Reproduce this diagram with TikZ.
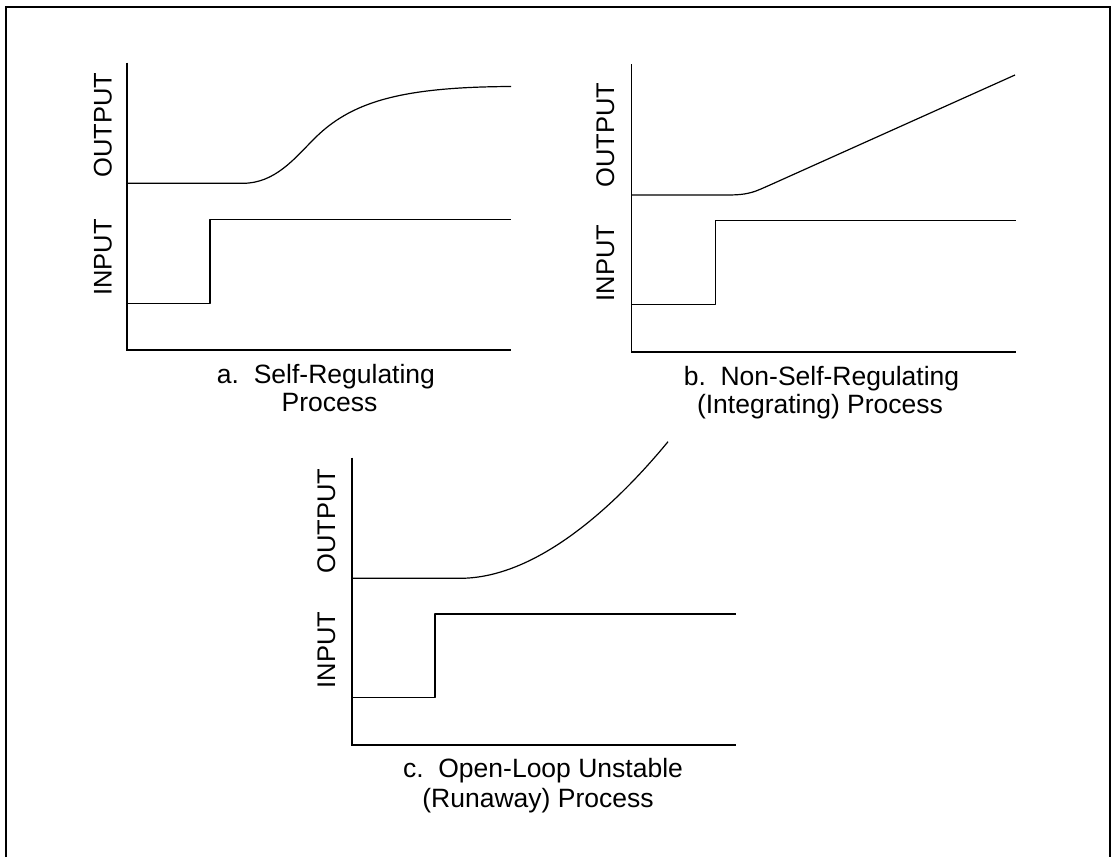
\documentclass[tikz,border=0pt]{standalone}
\usepackage{fontspec}
\setmainfont{Liberation Sans}
\begin{document}
\begin{tikzpicture}[x=1pt,y=-1pt,
  frame/.style={line width=2pt},
  axisline/.style={line width=1.6pt},
  sig/.style={line width=1.2pt, line join=round},
  lbl/.style={rotate=90, anchor=base, inner sep=0pt, font=\fontsize{25.5}{30}\selectfont},
  captxt/.style={anchor=base, inner sep=0pt, font=\fontsize{26.5}{31}\selectfont}]
\useasboundingbox (0,0) rectangle (1114,857);
% outer frame (open at the bottom)
\draw[frame] (6,857) -- (6,6.5) -- (1110,6.5) -- (1110,857);

% ---------- panel a ----------
\draw[axisline] (126.7,62.7) -- (126.7,350) -- (511,350);
\draw[sig] (126.7,183.3) -- (243,183.3)
  .. controls (275,183.3) and (295,158) .. (313,140)
  .. controls (350,102) and (400,87) .. (511,86.5);
\draw[sig] (126.7,303.3) -- (210,303.3) -- (210,219.3) -- (511,219.3);
\node[lbl] (aout) at (111.5,125) {OUTPUT};
\node[lbl] (ain) at (111.5,257.5) {INPUT};
\node[captxt] (acap1) at (326,383.3) {a.\ \ Self-Regulating};
\node[captxt] (acap2) at (329.5,411.7) {Process};

% ---------- panel b ----------
\draw[axisline] (631.3,64) -- (631.3,351.7) -- (1015.7,351.7);
\draw[sig] (631.3,195) -- (727,195)
  .. controls (750,195) and (755,191.5) .. (770,185) -- (1015,75);
\draw[sig] (631.3,304.3) -- (715.3,304.3) -- (715.3,220.3) -- (1015.7,220.3);
\node[lbl] (bout) at (614,135) {OUTPUT};
\node[lbl] (bin) at (614,263) {INPUT};
\node[captxt] (bcap1) at (821.5,385) {b.\ \ Non-Self-Regulating};
\node[captxt] (bcap2) at (820,413) {(Integrating) Process};

% ---------- panel c ----------
\draw[axisline] (351.7,457.7) -- (351.7,745) -- (736,745);
\draw[sig] (351.7,578.3) -- (460,578.3)
  .. controls (540,578.3) and (620,500) .. (668,441.7);
\draw[sig] (351.7,697.7) -- (435,697.7) -- (435,614) -- (736,614);
\node[lbl] (cout) at (335,521) {OUTPUT};
\node[lbl] (cin) at (335,650) {INPUT};
\node[captxt] (ccap1) at (543,777) {c.\ \ Open-Loop Unstable};
\node[captxt] (ccap2) at (538,807) {(Runaway) Process};
\end{tikzpicture}
\end{document}
